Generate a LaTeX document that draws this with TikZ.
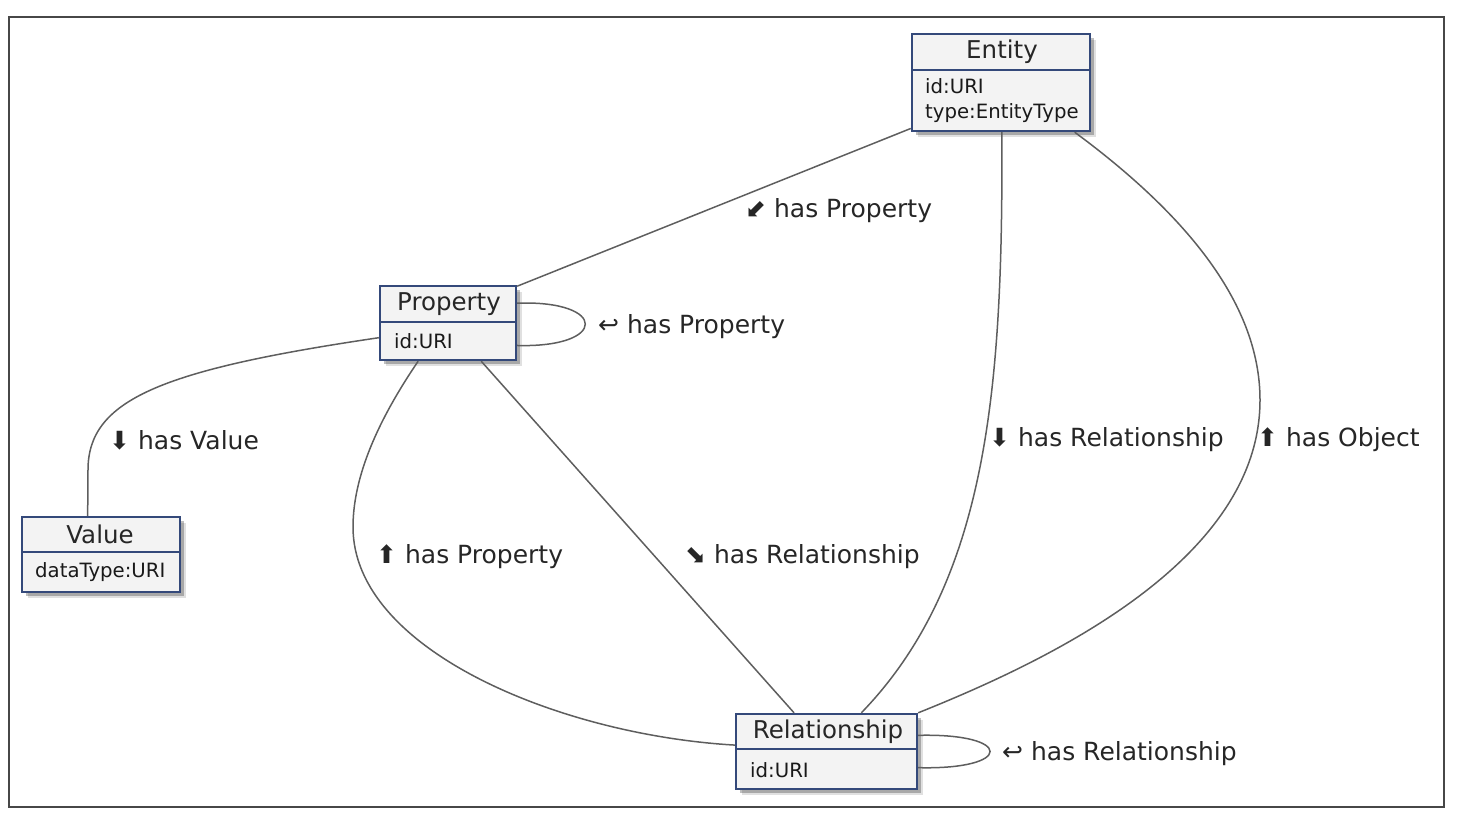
\documentclass[tikz,border=0pt]{standalone}
\usepackage{fontspec}
\setmainfont{DejaVu Sans}
\usetikzlibrary{shadows}
\definecolor{clsborder}{HTML}{34497A}
\definecolor{clsfill}{HTML}{F3F3F3}
\definecolor{edgegray}{HTML}{5E5E5E}
\definecolor{framegray}{HTML}{474747}

\begin{document}
\begin{tikzpicture}[x=1pt, y=-1pt,
    cls/.style = {draw=clsborder, line width=2.4pt, fill=clsfill,
        drop shadow={shadow xshift=6pt, shadow yshift=-6pt, fill=black, opacity=0.12},
        drop shadow={shadow xshift=4pt, shadow yshift=-4pt, fill=black, opacity=0.25}},
    divider/.style = {draw=clsborder, line width=2.4pt},
    title/.style = {font=\fontsize{24.5}{28}\selectfont, text=black!85, inner sep=0pt},
    attr/.style = {font=\fontsize{19.7}{25}\selectfont, align=left, anchor=west, inner sep=0pt, text=black!90},
    lbl/.style = {font=\fontsize{25}{29}\selectfont, anchor=west, inner sep=0pt, text=black!85},
    rel/.style = {draw=edgegray, line width=1.5pt}]

\useasboundingbox (0,0) rectangle (1464,834);
\draw[framegray, line width=2pt] (9,17) rectangle (1444,807);

% classes
\node[cls, minimum width=178pt, minimum height=97pt] (entity) at (1001,82.5) {};
\draw[divider] (912,70) -- (1090,70);
\node[title] (entityhead) at (1002,52) {Entity};
\node[attr] (entityattr) at (925,101) {id:URI\\type:EntityType};

\node[cls, minimum width=136pt, minimum height=74pt] (property) at (448,323) {};
\draw[divider] (380,322) -- (516,322);
\node[title] (propertyhead) at (449,304) {Property};
\node[attr] (propertyattr) at (394,341) {id:URI};

\node[cls, minimum width=158pt, minimum height=75pt] (value) at (101,554.5) {};
\draw[divider] (22,552) -- (180,552);
\node[title] (valuehead) at (100,534) {Value};
\node[attr] (valueattr) at (35,572) {dataType:URI};

\node[cls, minimum width=181pt, minimum height=75pt] (relationship) at (826.5,751.5) {};
\draw[divider] (736,749) -- (917,749);
\node[title] (relationshiphead) at (828,732) {Relationship};
\node[attr] (relationshipattr) at (750,770) {id:URI};

% links
\draw[rel] (entity.207) -- (property.28);
\draw[rel] (property.16) .. controls (608,300) and (608,348) .. (property.342);
\draw[rel] (property.192) .. controls (160,370) and (88,400) .. (88,470) -- (value.109);
\draw[rel] (property.232) .. controls (385,410) and (353,470) .. (353,527) .. controls (353,650) and (560,735) .. (relationship.176);
\draw[rel] (property.311) -- (relationship.130);
\draw[rel] (entity.271) .. controls (1003,380) and (990,580) .. (relationship.48);
\draw[rel] (entity.326) .. controls (1180,210) and (1260,300) .. (1260,400) .. controls (1260,560) and (1050,660) .. (relationship.north east);
\draw[rel] (relationship.10) .. controls (1014,733) and (1014,770) .. (relationship.350);

% labels
\node[lbl] (lblentprop) at (745,211) {⬋ has Property};
\node[lbl] (lblpropprop) at (598,327) {↩ has Property};
\node[lbl] (lblvalue) at (109,440) {⬇ has Value};
\node[lbl] (lblrelprop) at (376,557) {⬆ has Property};
\node[lbl] (lblproprel) at (685,557) {⬊ has Relationship};
\node[lbl] (lblentrel) at (989,440) {⬇ has Relationship};
\node[lbl] (lblobject) at (1257,440) {⬆ has Object};
\node[lbl] (lblrelrel) at (1002,754) {↩ has Relationship};
\end{tikzpicture}
\end{document}
